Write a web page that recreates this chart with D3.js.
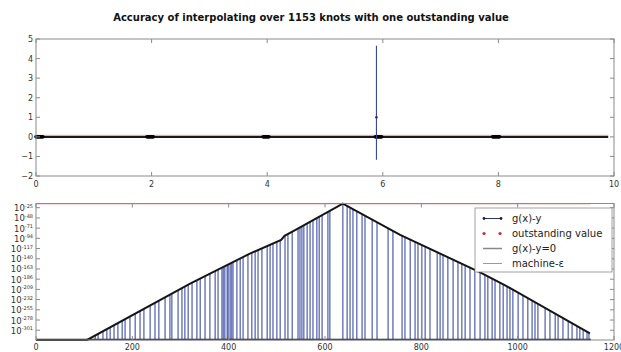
<!DOCTYPE html>
<html>
<head>
<meta charset="utf-8">
<script src="https://cdn.jsdelivr.net/npm/d3@7"></script>
<style>
  html, body { margin: 0; padding: 0; background: #fff; }
  svg { display: block; font-family: "DejaVu Sans", sans-serif; }
</style>
</head>
<body>
<svg id="chart" width="621" height="352"></svg>
<script>
// ---- data ----
const title = "Accuracy of interpolating over 1153 knots with one outstanding value";

// upper panel: linear error plot
const topXTicks = [0, 2, 4, 6, 8, 10];
const topYTicks = [-2, -1, 0, 1, 2, 3, 4, 5];
const zeroLineExtent = [0, 9.9];                 // g(x)-y at zero
const denseKnotSpans = [[0, 0.12], [1.92, 2.03], [3.93, 4.03], [5.87, 5.98], [7.90, 8.02]];
const spikeX = 5.89;                             // position of the outstanding value
const spikeRange = [-1.17, 4.65];                // min / max of g(x)-y near it
const outstandingValue = 1.0;

// lower panel: |g(x)-y| on a log scale (values are log10 exponents)
const bottomXTicks = [0, 200, 400, 600, 800, 1000, 1200];
const bottomYExponents = [-25, -48, -71, -94, -117, -140, -163, -186, -209, -232, -255, -278, -301];
const envelopeX   = [0,    106,  320,    444,    509,   516,   538,   637,  756,   922,    974,    1150];
const envelopeExp = [-323, -323, -195.9, -128.5, -97.5, -88.5, -75.5, -16,  -86.3, -170.5, -199.8, -308.3];
const knotCount = 1152;
const machineEpsExp = Math.log10(2.220446049250313e-16);
// knots where g(x)-y is exactly zero (line drops to the bottom of the log axis)
const exactZeroKnots = [
  123, 129, 139, 147, 154, 162, 170, 179, 185, 195, 206, 216, 224, 237, 247, 255, 268, 278, 282, 295,
  303, 309, 316, 324, 334, 341, 351, 361, 372, 378, 386, 389, 392, 397, 399, 403, 406, 409, 417, 424,
  430, 440, 448, 455, 461, 469, 480, 486, 492, 500, 507, 517, 523, 532, 544, 548, 552, 556, 563, 569,
  575, 583, 588, 594, 606, 610, 637, 646, 652, 658, 666, 677, 683, 698, 708, 731, 741, 760, 766, 777,
  787, 793, 801, 808, 818, 833, 839, 845, 855, 866, 876, 884, 891, 901, 911, 922, 932, 938, 947, 953,
  963, 970, 978, 984, 990, 1001, 1011, 1021, 1030, 1036, 1042, 1057, 1067, 1078, 1084, 1094, 1105, 1113,
  1123, 1129, 1136, 1144, 1148
];

const legendLabels = ["g(x)-y", "outstanding value", "g(x)-y=0", "machine-\u03b5"];

// ---- layout ----
const svg = d3.select("#chart");
const left = 36, right = 614;
const topPanel = { top: 39, bottom: 176 };
const botPanel = { top: 203.5, bottom: 340 };
const frameColor = "#8a8a8a";
const tickColor = "#8a8a8a";
const labelColor = "#333";
const lineBlue = "#3346a2";

svg.append("text")
  .attr("x", 311).attr("y", 21)
  .attr("text-anchor", "middle")
  .attr("font-weight", "bold")
  .attr("font-size", 10)
  .attr("fill", "#111")
  .text(title);

// ================= upper panel =================
const xTop = d3.scaleLinear().domain([0, 10]).range([left, right]);
const yTop = d3.scaleLinear().domain([-2, 5]).range([topPanel.bottom, topPanel.top]);
const gTop = svg.append("g");

// dense dark line along zero
gTop.append("line")
  .attr("x1", xTop(zeroLineExtent[0])).attr("x2", xTop(zeroLineExtent[1]))
  .attr("y1", yTop(0)).attr("y2", yTop(0))
  .attr("stroke", "#1a1a1a").attr("stroke-width", 2.2);
gTop.append("line")
  .attr("x1", xTop(zeroLineExtent[0])).attr("x2", xTop(zeroLineExtent[1]))
  .attr("y1", yTop(0) - 1.6).attr("y2", yTop(0) - 1.6)
  .attr("stroke", "#e8a0a8").attr("stroke-width", 0.8);
gTop.selectAll("line.dense").data(denseKnotSpans).join("line")
  .attr("class", "dense")
  .attr("x1", d => xTop(d[0])).attr("x2", d => xTop(d[1]))
  .attr("y1", yTop(0)).attr("y2", yTop(0))
  .attr("stroke", "#000").attr("stroke-width", 3.6).attr("stroke-linecap", "round");

// spike around the outstanding value
gTop.append("line")
  .attr("x1", xTop(spikeX)).attr("x2", xTop(spikeX))
  .attr("y1", yTop(spikeRange[0])).attr("y2", yTop(spikeRange[1]))
  .attr("stroke", lineBlue).attr("stroke-width", 1.1);
gTop.append("circle")
  .attr("cx", xTop(spikeX)).attr("cy", yTop(outstandingValue)).attr("r", 1.3)
  .attr("fill", "#552244");

gTop.append("rect")
  .attr("x", left).attr("y", topPanel.top)
  .attr("width", right - left).attr("height", topPanel.bottom - topPanel.top)
  .attr("fill", "none").attr("stroke", frameColor).attr("stroke-width", 1);

function inwardTicks(g, xs, ys, xScale, yScale, box) {
  const len = 4;
  xs.forEach(v => {
    const x = xScale(v);
    g.append("line").attr("x1", x).attr("x2", x).attr("y1", box.bottom).attr("y2", box.bottom - len).attr("stroke", tickColor);
    g.append("line").attr("x1", x).attr("x2", x).attr("y1", box.top).attr("y2", box.top + len).attr("stroke", tickColor);
  });
  ys.forEach(v => {
    const y = yScale(v);
    g.append("line").attr("x1", left).attr("x2", left + len).attr("y1", y).attr("y2", y).attr("stroke", tickColor);
    g.append("line").attr("x1", right).attr("x2", right - len).attr("y1", y).attr("y2", y).attr("stroke", tickColor);
  });
}
inwardTicks(gTop, topXTicks, topYTicks, xTop, yTop, topPanel);

gTop.selectAll("text.xt").data(topXTicks).join("text")
  .attr("class", "xt")
  .attr("x", d => xTop(d)).attr("y", topPanel.bottom + 11)
  .attr("text-anchor", "middle").attr("font-size", 8).attr("fill", labelColor)
  .text(d => d);
gTop.selectAll("text.yt").data(topYTicks).join("text")
  .attr("class", "yt")
  .attr("x", left - 3).attr("y", d => yTop(d) + 3)
  .attr("text-anchor", "end").attr("font-size", 8).attr("fill", labelColor)
  .text(d => d < 0 ? "\u2212" + Math.abs(d) : d);

// ================= lower panel =================
const xBot = d3.scaleLinear().domain([0, 1200]).range([left, right]);
const yBot = d3.scaleLog().domain([1e-323, Math.pow(10, -15.5)]).range([botPanel.bottom, botPanel.top]);
const gBot = svg.append("g");

const envelope = envelopeX.map((x, i) => ({ x, v: Math.pow(10, envelopeExp[i]) }));
function envelopeAt(x) {
  for (let i = 1; i < envelopeX.length; i++) {
    if (x <= envelopeX[i]) {
      const t = (x - envelopeX[i - 1]) / (envelopeX[i] - envelopeX[i - 1]);
      return Math.pow(10, envelopeExp[i - 1] + t * (envelopeExp[i] - envelopeExp[i - 1]));
    }
  }
  return Math.pow(10, envelopeExp[envelopeExp.length - 1]);
}

// drops to exact zeros
gBot.selectAll("line.drop").data(exactZeroKnots).join("line")
  .attr("class", "drop")
  .attr("x1", d => xBot(d)).attr("x2", d => xBot(d))
  .attr("y1", d => yBot(envelopeAt(d))).attr("y2", botPanel.bottom)
  .attr("stroke", lineBlue).attr("stroke-opacity", 0.7).attr("stroke-width", 1.5);

// machine epsilon
gBot.append("line")
  .attr("x1", xBot(0)).attr("x2", xBot(knotCount))
  .attr("y1", yBot(Math.pow(10, machineEpsExp))).attr("y2", yBot(Math.pow(10, machineEpsExp)))
  .attr("stroke", "#e07a80").attr("stroke-width", 1.2);

// dark baseline made of zero-valued knots
gBot.append("line")
  .attr("x1", xBot(0)).attr("x2", xBot(knotCount))
  .attr("y1", botPanel.bottom - 0.5).attr("y2", botPanel.bottom - 0.5)
  .attr("stroke", "#1a1a1a").attr("stroke-width", 1.6);

gBot.append("path")
  .datum(envelope)
  .attr("d", d3.line().x(d => xBot(d.x)).y(d => yBot(d.v)))
  .attr("fill", "none").attr("stroke", "#151515").attr("stroke-width", 2);

gBot.append("rect")
  .attr("x", left).attr("y", botPanel.top)
  .attr("width", right - left).attr("height", botPanel.bottom - botPanel.top)
  .attr("fill", "none").attr("stroke", frameColor).attr("stroke-width", 1);

const bottomYTickVals = bottomYExponents.map(e => Math.pow(10, e));
inwardTicks(gBot, bottomXTicks, bottomYTickVals, xBot, yBot, botPanel);

gBot.selectAll("text.xt").data(bottomXTicks).join("text")
  .attr("class", "xt")
  .attr("x", d => xBot(d)).attr("y", botPanel.bottom + 10)
  .attr("text-anchor", "middle").attr("font-size", 8).attr("fill", labelColor)
  .text(d => d);

const yLab = gBot.selectAll("text.yt").data(bottomYExponents).join("text")
  .attr("class", "yt")
  .attr("x", left - 3).attr("y", d => yBot(Math.pow(10, d)) + 3.5)
  .attr("text-anchor", "end").attr("font-size", 8.5).attr("fill", labelColor);
yLab.append("tspan").text("10");
yLab.append("tspan").attr("dy", -3.5).attr("font-size", 5).text(d => "-" + Math.abs(d));

// legend
const leg = gBot.append("g").attr("transform", "translate(475,208)");
leg.append("rect").attr("width", 137).attr("height", 64)
  .attr("fill", "#fff").attr("stroke", frameColor).attr("stroke-width", 0.8);
const rowY = i => 10.5 + i * 15;
// g(x)-y
leg.append("line").attr("x1", 9).attr("x2", 26).attr("y1", rowY(0)).attr("y2", rowY(0))
  .attr("stroke", "#2a3570").attr("stroke-width", 1);
[9, 26].forEach(x => leg.append("circle").attr("cx", x).attr("cy", rowY(0)).attr("r", 1.4).attr("fill", "#222"));
// outstanding value
[9, 25].forEach(x => leg.append("circle").attr("cx", x).attr("cy", rowY(1)).attr("r", 1.6).attr("fill", "#d02a3a"));
// g(x)-y=0
leg.append("line").attr("x1", 8).attr("x2", 27).attr("y1", rowY(2)).attr("y2", rowY(2))
  .attr("stroke", "#888").attr("stroke-width", 1.5);
// machine epsilon
leg.append("line").attr("x1", 8).attr("x2", 27).attr("y1", rowY(3)).attr("y2", rowY(3))
  .attr("stroke", "#e07a80").attr("stroke-width", 1);
leg.selectAll("text").data(legendLabels).join("text")
  .attr("x", 37).attr("y", (d, i) => rowY(i) + 3.5)
  .attr("font-size", 10).attr("fill", "#222")
  .text(d => d);
</script>
</body>
</html>
